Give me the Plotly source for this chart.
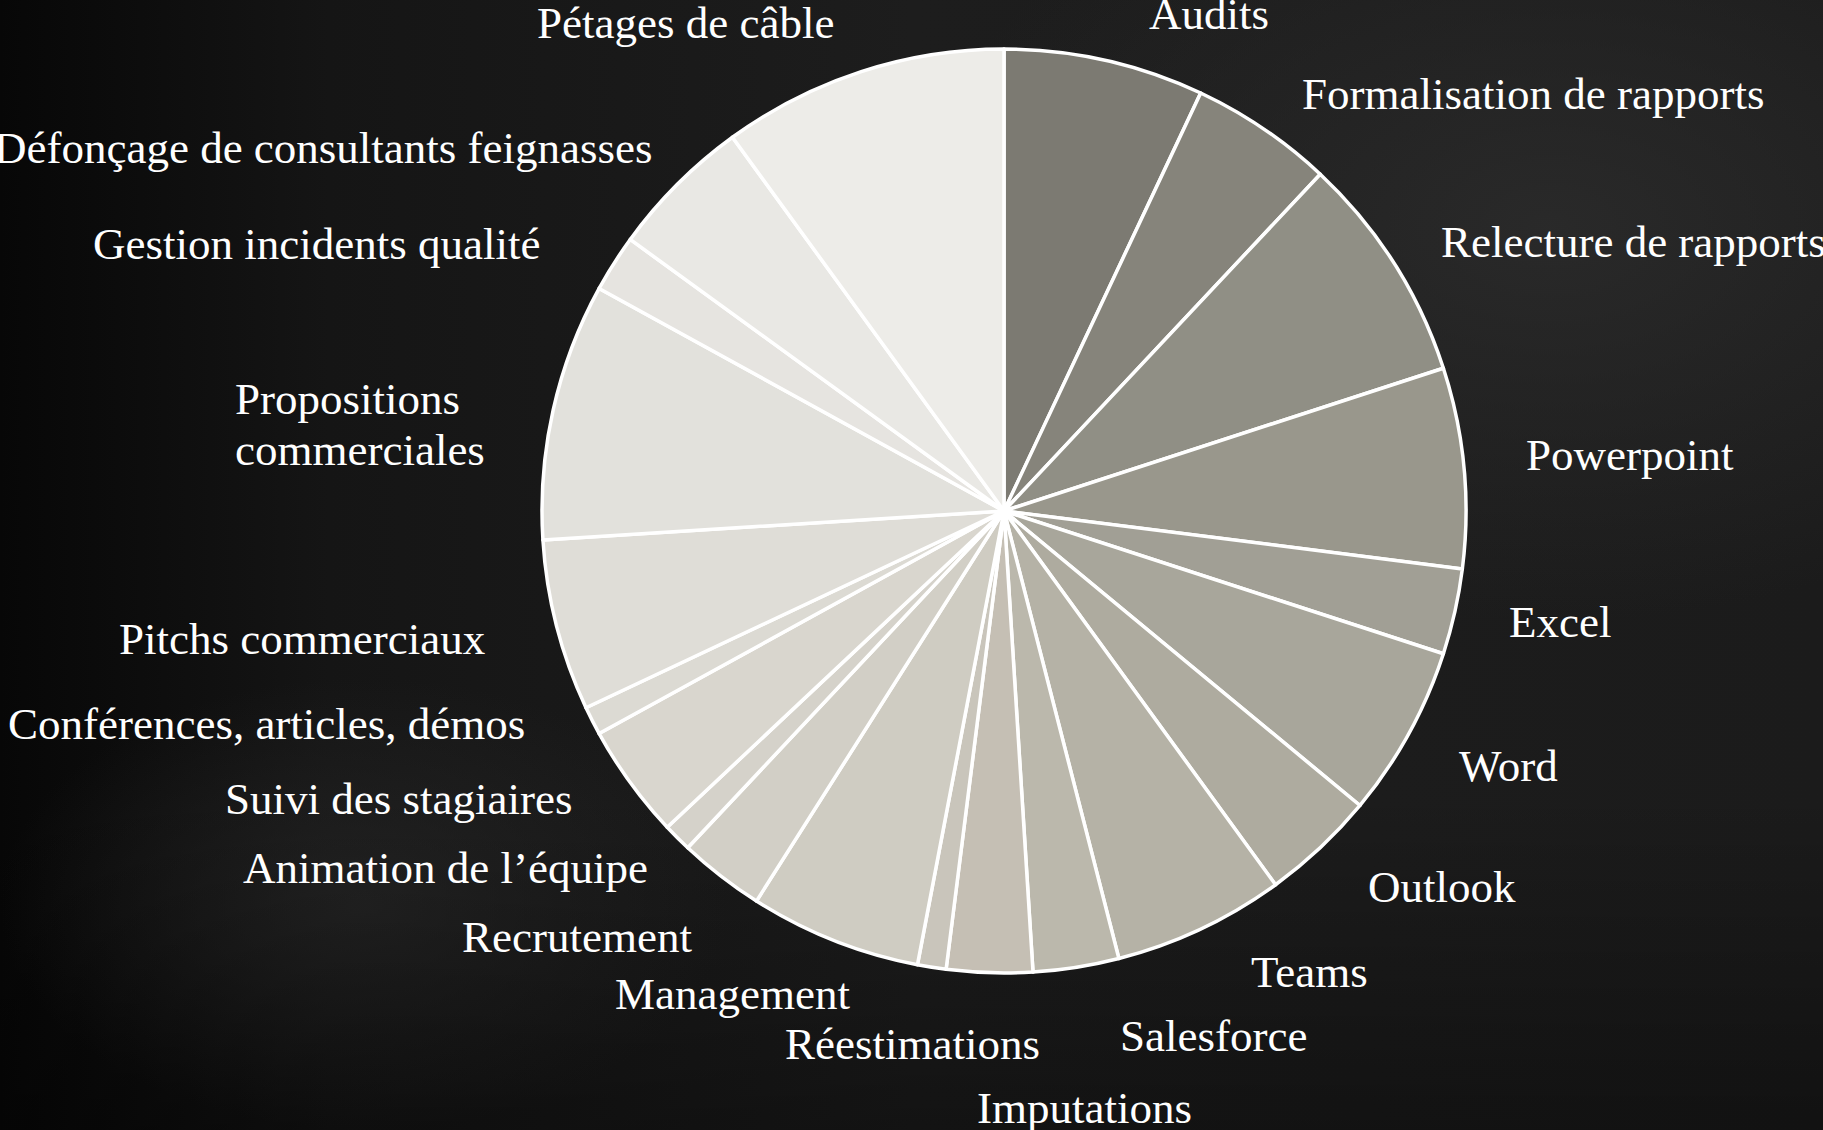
import base64
import math
import plotly.graph_objects as go

# ---------------- data ----------------
categories = [
    "Audits", "Formalisation de rapports", "Relecture de rapports", "Powerpoint",
    "Excel", "Word", "Outlook", "Teams", "Salesforce", "Imputations",
    "Réestimations", "Management", "Recrutement", "Animation de l’équipe",
    "Suivi des stagiaires", "Conférences, articles, démos", "Pitchs commerciaux",
    "Propositions commerciales", "Gestion incidents qualité",
    "Défonçage de consultants feignasses", "Pétages de câble",
]
values = [7, 5, 8, 7, 3, 6, 4, 6, 3, 3, 1, 6, 3, 1, 4, 1, 6, 9, 2, 5, 10]
slice_colors = [
    "#7c7a72", "#86847b", "#908f85", "#99978c", "#a19f95", "#a8a69b", "#aeab9f",
    "#b5b2a6", "#bbb8ac", "#c5bfb4", "#c9c5bb", "#cfccc2", "#d2cfc6", "#d5d2ca",
    "#d9d6ce", "#dcdad3", "#dfddd7", "#e2e1dc", "#e6e4e0", "#e9e8e4", "#edece8",
]
label_lines = [["Propositions", "commerciales"] if c == "Propositions commerciales" else [c]
               for c in categories]

# ---------------- geometry / style ----------------
W, H = 1823, 1130
CX, CY, R = 1004, 511, 462
RL = 522          # label anchor radius
LINE_GAP = 51     # spacing between wrapped label lines
# fine position tweaks (pixels, dx right / dy down) for each label
label_shift = [
    (29, 12), (3, 15), (-6, 11), (0, -7), (-6, -3), (-4, 4), (5, -5), (23, -11),
    (32, 9), (206, 75), (120, 17), (40, -2), (10, 14), (15, -12), (-8, -19),
    (-12, -24), (-11, -2), (-262, 27), (-21, 13), (20, 6), (-7, 8),
]
FONT = "Liberation Serif, Times New Roman, serif"

fig = go.Figure(go.Pie(
    labels=categories,
    values=values,
    sort=False,
    direction="clockwise",
    rotation=0,
    textinfo="none",
    hoverinfo="label+value",
    marker=dict(colors=slice_colors, line=dict(color="#ffffff", width=3.5)),
    domain=dict(x=[(CX - R) / W, (CX + R) / W], y=[1 - (CY + R) / H, 1 - (CY - R) / H]),
    showlegend=False,
))

total = sum(values)
cum = 0
annotations = []
for lines, v, (dx, dy) in zip(label_lines, values, label_shift):
    mid = (cum + v / 2) / total * 360.0
    cum += v
    a = math.radians(mid)
    px = CX + RL * math.sin(a)
    py = CY - RL * math.cos(a)
    n = len(lines)
    # wrapped labels are left-aligned blocks
    anchor = "left" if (mid < 180 or n > 1) else "right"
    for k, line in enumerate(lines):
        annotations.append(dict(
            text=line, x=px / W, y=1 - py / H, xref="paper", yref="paper",
            xanchor=anchor, yanchor="middle",
            xshift=dx, yshift=-dy + ((n - 1) / 2 - k) * LINE_GAP,
            showarrow=False, align="left",
            font=dict(family=FONT, size=45, color="#ffffff"),
        ))

bg_svg = f'''<svg xmlns="http://www.w3.org/2000/svg" width="{W}" height="{H}" viewBox="0 0 {W} {H}">
<defs>
<linearGradient id="l" x1="0" y1="0" x2="1" y2="0">
<stop offset="0" stop-color="#070707"/>
<stop offset="0.18" stop-color="#151515"/>
<stop offset="0.5" stop-color="#1d1d1d"/>
<stop offset="1" stop-color="#1b1b1b"/>
</linearGradient>
<radialGradient id="r1" cx="0.85" cy="0.2" r="0.35">
<stop offset="0" stop-color="#2b2b2b" stop-opacity="0.9"/>
<stop offset="1" stop-color="#2b2b2b" stop-opacity="0"/>
</radialGradient>
<radialGradient id="r2" cx="0.2" cy="0.8" r="0.2">
<stop offset="0" stop-color="#262626" stop-opacity="0.8"/>
<stop offset="1" stop-color="#262626" stop-opacity="0"/>
</radialGradient>
<linearGradient id="b" x1="0" y1="0" x2="0" y2="1">
<stop offset="0.7" stop-color="#000" stop-opacity="0"/>
<stop offset="1" stop-color="#000" stop-opacity="0.35"/>
</linearGradient>
</defs>
<rect width="{W}" height="{H}" fill="url(#l)"/>
<rect width="{W}" height="{H}" fill="url(#r1)"/>
<rect width="{W}" height="{H}" fill="url(#r2)"/>
<rect width="{W}" height="{H}" fill="url(#b)"/>
</svg>'''
bg_uri = "data:image/svg+xml;base64," + base64.b64encode(bg_svg.encode("utf-8")).decode("ascii")

fig.update_layout(
    width=W, height=H,
    margin=dict(l=0, r=0, t=0, b=0),
    paper_bgcolor="#1b1b1b",
    plot_bgcolor="#1b1b1b",
    font=dict(family=FONT, size=45, color="#ffffff"),
    annotations=annotations,
    images=[dict(source=bg_uri, xref="paper", yref="paper", x=0, y=1,
                 sizex=1, sizey=1, sizing="stretch", layer="below",
                 xanchor="left", yanchor="top")],
)

page_js = ("document.body.style.margin='0';document.body.style.padding='0';"
           "document.body.style.overflow='hidden';document.body.style.background='#1b1b1b';")
fig.write_html("out.html", post_script=page_js, config={"displayModeBar": False})
